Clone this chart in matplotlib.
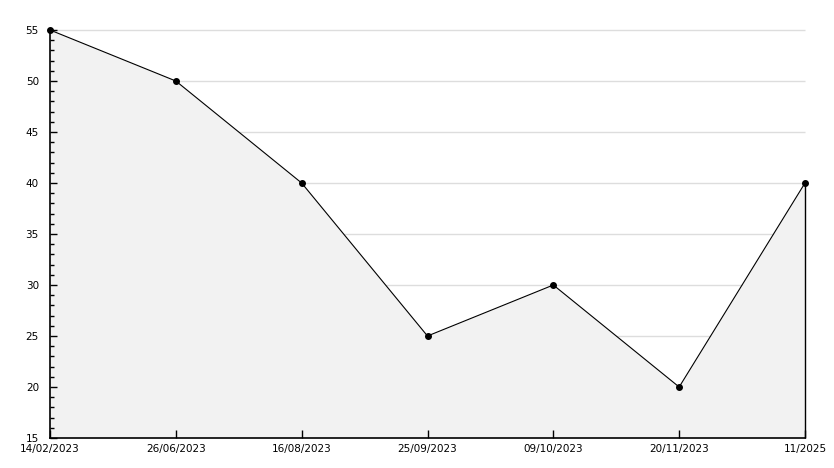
import numpy as np
import matplotlib.pyplot as plt
from matplotlib.ticker import MultipleLocator
import matplotlib.transforms as mtransforms

# DATA
dates = ['14/02/2023', '26/06/2023', '16/08/2023', '25/09/2023',
         '09/10/2023', '20/11/2023', '11/2025']
values = [55, 50, 40, 25, 30, 20, 40]
grid_levels = [20, 25, 30, 35, 40, 45, 50, 55]

x = np.arange(len(dates))

fig = plt.figure(figsize=(8.34, 4.68), dpi=100)
ax = fig.add_axes([50/834, 1 - 438/468, 755/834, 408/468])

# grid behind the fill
ax.hlines(grid_levels, x[0], x[-1], color='#dddddd', lw=1, zorder=0.5, clip_on=False)
ax.fill_between(x, values, 15, color='#f2f2f2', lw=0, zorder=1)
ax.vlines(x[-1], 15, values[-1], color='black', lw=1, zorder=2, clip_on=False)
ax.plot(x, values, color='black', lw=0.8, marker='o', ms=4, zorder=3, clip_on=False)

ax.set_xlim(x[0], x[-1])
ax.set_ylim(15, 55)
ax.set_xticks(x)
ax.set_xticklabels(dates)
ax.yaxis.set_major_locator(MultipleLocator(5))
ax.yaxis.set_minor_locator(MultipleLocator(1))
ax.set_axisbelow(False)

for s in ['top', 'right']:
    ax.spines[s].set_visible(False)
for s in ['left', 'bottom']:
    ax.spines[s].set_linewidth(1.2)
    ax.spines[s].set_zorder(4)

ax.tick_params(axis='y', which='major', direction='in', length=5, width=1,
               labelsize=7.5, pad=8)
ax.tick_params(axis='y', which='minor', direction='in', length=3, width=1)
ax.tick_params(axis='x', direction='in', length=6, width=1, labelsize=7.5, pad=4)

# nudge the bottom y label up a bit
lbl = ax.get_yticklabels()[0]
lbl.set_transform(lbl.get_transform() + mtransforms.ScaledTranslation(0, 6/100, fig.dpi_scale_trans))

fig.savefig('out.png', dpi=100)
